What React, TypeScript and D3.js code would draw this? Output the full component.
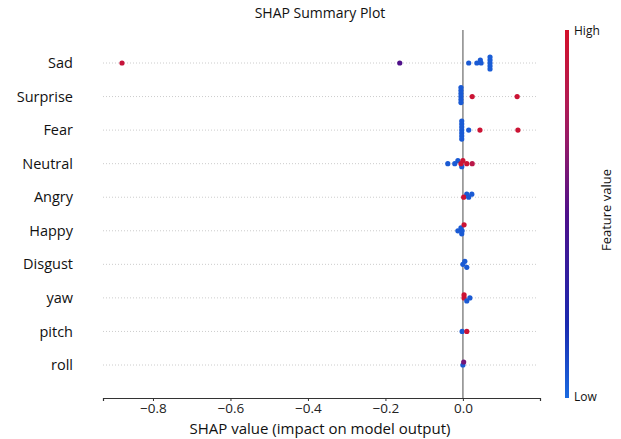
import { useEffect, useRef } from 'react';
import * as d3 from 'd3';

const features = ['Sad', 'Surprise', 'Fear', 'Neutral', 'Angry', 'Happy', 'Disgust', 'yaw', 'pitch', 'roll'];

// shap values per feature, and matching feature values (0 = low, 1 = high)
const shapValues = [
  [-0.88, -0.163, 0.015, 0.036, 0.045, 0.047, 0.07, 0.07, 0.07, 0.07, 0.07],
  [-0.005, -0.005, -0.005, -0.005, -0.005, -0.005, 0.024, 0.14],
  [-0.003, -0.003, -0.003, -0.003, -0.003, -0.003, -0.003, 0.015, 0.044, 0.142],
  [-0.039, -0.021, -0.013, -0.003, 0.0, 0.01, 0.024, -0.005],
  [0.01, 0.002, 0.015, 0.023],
  [-0.003, -0.013, -0.005, 0.003, -0.002],
  [0.005, 0.0, 0.01],
  [0.003, 0.003, 0.01, 0.018],
  [-0.002, 0.01],
  [0.0, 0.002],
];
const featureValues = [
  [0.92, 0.5, 0.05, 0.05, 0.05, 0.05, 0.04, 0.04, 0.04, 0.04, 0.04],
  [0.05, 0.05, 0.05, 0.05, 0.05, 0.05, 0.95, 0.95],
  [0.05, 0.05, 0.05, 0.05, 0.05, 0.05, 0.05, 0.05, 0.95, 0.95],
  [0.05, 0.05, 0.05, 0.05, 0.95, 0.95, 0.85, 0.95],
  [0.05, 0.95, 0.05, 0.05],
  [0.05, 0.05, 0.05, 0.95, 0.05],
  [0.05, 0.05, 0.05],
  [0.95, 0.95, 0.05, 0.05],
  [0.05, 0.95],
  [0.05, 0.6],
];

const xTicks = [-0.8, -0.6, -0.4, -0.2, 0.0];

const App = () => {
  const svgRef = useRef<SVGSVGElement | null>(null);

  useEffect(() => {
    if (!svgRef.current) return;
    const svg = d3.select(svgRef.current);
    svg.selectAll('*').remove();

    const left = 103, right = 540, top = 30, bottom = 398;
    const font = '"Open Sans", "DejaVu Sans", sans-serif';

    const x = d3.scaleLinear().domain([-0.929, 0.199]).range([left, right]);
    const y = d3.scalePoint<string>().domain(features).range([63, 365]);

    const color = d3.scaleLinear<string>()
      .domain([0, 0.2, 0.5, 0.75, 1])
      .range(['#1a6ae0', '#1a2ab0', '#4f108a', '#a81e5e', '#d4102a']);

    const defs = svg.append('defs');
    const grad = defs.append('linearGradient')
      .attr('id', 'cbar').attr('x1', 0).attr('y1', 1).attr('x2', 0).attr('y2', 0);
    d3.range(0, 1.01, 0.1).forEach(t => {
      grad.append('stop').attr('offset', `${t * 100}%`).attr('stop-color', color(t));
    });

    // title
    svg.append('text')
      .attr('x', 320).attr('y', 18)
      .attr('text-anchor', 'middle')
      .style('font', `14px ${font}`)
      .attr('fill', '#111')
      .text('SHAP Summary Plot');

    // dotted row lines
    svg.append('g')
      .selectAll('line')
      .data(features)
      .join('line')
      .attr('x1', left).attr('x2', right - 3)
      .attr('y1', d => y(d)!).attr('y2', d => y(d)!)
      .attr('stroke', '#cccccc')
      .attr('stroke-width', 1)
      .attr('stroke-dasharray', '1,2');

    // zero line
    svg.append('line')
      .attr('x1', x(0)).attr('x2', x(0))
      .attr('y1', top).attr('y2', bottom)
      .attr('stroke', '#888')
      .attr('stroke-width', 1.5);

    // y labels
    svg.append('g')
      .selectAll('text')
      .data(features)
      .join('text')
      .attr('x', 73)
      .attr('y', d => y(d)!)
      .attr('dy', '0.35em')
      .attr('text-anchor', 'end')
      .style('font', `14.5px ${font}`)
      .attr('fill', '#111')
      .text(d => d);

    // beeswarm points
    const dotR = 2.6;
    const rowStep = 3;
    features.forEach((f, i) => {
      const pts = shapValues[i].map((v, j) => ({ v, fv: featureValues[i][j], px: x(v), off: 0 }));
      const placed: { px: number; off: number }[] = [];
      const order = pts.slice().sort((a, b) => a.px - b.px);
      order.forEach(p => {
        let k = 0;
        const seq = (n: number) => (n === 0 ? 0 : (n % 2 === 1 ? -(n + 1) / 2 : n / 2));
        while (placed.some(q => Math.abs(q.px - p.px) < 4 && q.off === seq(k))) k++;
        p.off = seq(k);
        placed.push({ px: p.px, off: p.off });
      });
      svg.append('g')
        .selectAll('circle')
        .data(pts)
        .join('circle')
        .attr('cx', d => d.px)
        .attr('cy', d => y(f)! + d.off * rowStep)
        .attr('r', dotR)
        .attr('fill', d => color(d.fv));
    });

    // x axis
    const axis = svg.append('g')
      .attr('transform', `translate(0,${bottom})`)
      .call(d3.axisBottom(x).tickValues(xTicks).tickSize(3).tickPadding(2).tickFormat(d3.format('.1f')));
    axis.select('.domain').attr('stroke', '#333').attr('stroke-width', 1.2);
    axis.selectAll('.tick line').attr('stroke', '#333');
    axis.selectAll('.tick text')
      .style('font', `13.5px ${font}`)
      .attr('fill', '#222');

    svg.append('text')
      .attr('x', 320).attr('y', 434)
      .attr('text-anchor', 'middle')
      .style('font', `15px ${font}`)
      .attr('fill', '#111')
      .text('SHAP value (impact on model output)');

    // colorbar
    svg.append('rect')
      .attr('x', 565).attr('y', top)
      .attr('width', 4).attr('height', bottom - top)
      .attr('fill', 'url(#cbar)');
    svg.append('text')
      .attr('x', 574).attr('y', top + 1)
      .attr('dy', '0.35em')
      .style('font', `12px ${font}`)
      .attr('fill', '#111')
      .text('High');
    svg.append('text')
      .attr('x', 574).attr('y', bottom - 1)
      .attr('dy', '0.35em')
      .style('font', `12px ${font}`)
      .attr('fill', '#111')
      .text('Low');
    svg.append('text')
      .attr('transform', `translate(611,210) rotate(-90)`)
      .attr('text-anchor', 'middle')
      .style('font', `13px ${font}`)
      .attr('fill', '#111')
      .text('Feature value');
  }, []);

  return (
    <svg
      ref={svgRef}
      width={621}
      height={439}
      style={{ position: 'absolute', left: 0, top: 0, background: '#fff' }}
    />
  );
};

export default App;
